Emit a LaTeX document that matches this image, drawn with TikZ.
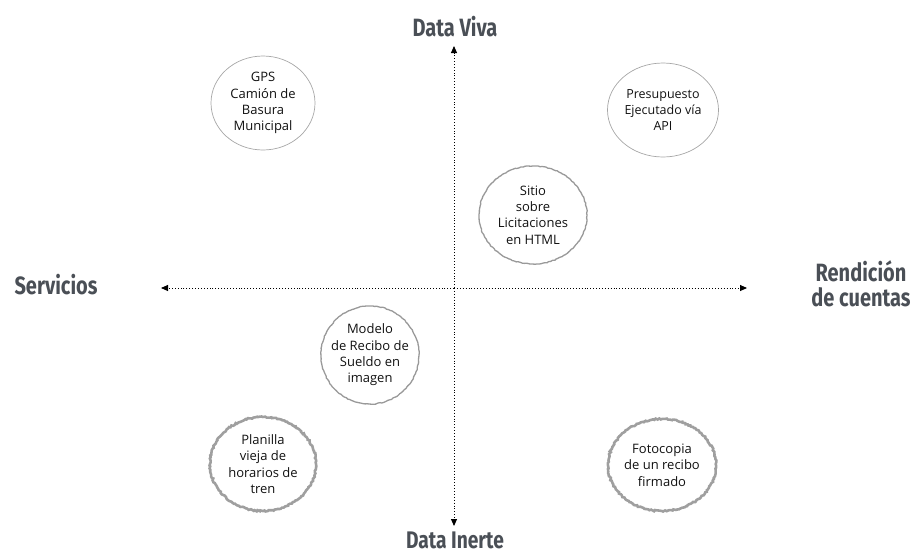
\documentclass[tikz,border=0pt]{standalone}
\usepackage{fontspec}
\setmainfont{Open Sans}
\newfontfamily\headfont[FakeStretch=0.8]{Fira Sans}
\usetikzlibrary{arrows.meta,decorations.pathmorphing,shapes.geometric}
\definecolor{headgray}{HTML}{4A4F56}
\definecolor{txt}{HTML}{111111}
\tikzset{
  axis/.style={dotted, line width=0.9pt, -{Triangle[length=7pt,width=6pt]}, black},
  head/.style={font=\headfont\bfseries\fontsize{25}{28}\selectfont, text=headgray, align=center},
  lbl/.style={font=\fontsize{13}{16.3}\selectfont, text=txt, align=center},
  thin/.style={draw=gray!70, line width=0.7pt},
  sketch/.style={draw=gray!80, line width=1.3pt, decorate, decoration={random steps, segment length=2pt, amplitude=0.4pt}},
  rough/.style={draw=gray!75, line width=2.6pt, decorate, decoration={random steps, segment length=1.5pt, amplitude=0.7pt}},
}
\begin{document}
\begin{tikzpicture}[x=1pt,y=-1pt]
\useasboundingbox (0,0) rectangle (918,555);
\coordinate (c) at (454,288);
\coordinate (top) at (454,46);
\coordinate (bot) at (454,526);
\coordinate (lft) at (161,288);
\coordinate (rgt) at (747,288);
\draw[axis] (c) -- (top);
\draw[axis] (c) -- (bot);
\draw[axis] (c) -- (lft);
\draw[axis] (c) -- (rgt);

\node[head] (viva) at (455,27) {Data Viva};
\node[head, font=\headfont\bfseries\fontsize{24}{26}\selectfont, anchor=base, inner sep=0pt, text depth=0pt] (inerte) at (455,548) {Data Inerte};
\node[head] (serv) at (56,285) {Servicios};
\node[head] (rend) at (861,284) {Rendición\\[-3pt]de cuentas};

\node[ellipse, thin, minimum width=104pt, minimum height=94pt] (gps) at (263,103) {};
\node[lbl] at (gps) {GPS\\Camión de\\Basura\\Municipal};

\node[ellipse, thin, minimum width=111pt, minimum height=94pt] (pres) at (663,110) {};
\node[lbl, font=\fontsize{12.5}{16.3}\selectfont] at (pres) {Presupuesto\\Ejecutado vía\\API};

\node[ellipse, minimum width=108pt, minimum height=98pt] (sitio) at (533,215) {};
\draw[sketch] (sitio.center) ellipse [x radius=54pt, y radius=49pt];
\node[lbl] at (sitio) {Sitio\\sobre\\Licitaciones\\en HTML};

\node[ellipse, minimum width=98pt, minimum height=98pt] (modelo) at (370,355) {};
\draw[sketch] (modelo.center) ellipse [x radius=49pt, y radius=49pt];
\node[lbl] at (modelo) {Modelo\\de Recibo de\\Sueldo en\\imagen};

\node[ellipse, minimum width=106pt, minimum height=94pt] (plan) at (263,464) {};
\draw[rough] (plan.center) ellipse [x radius=53pt, y radius=47pt];
\node[lbl] at (plan) {Planilla\\vieja de\\horarios de\\tren};

\node[ellipse, minimum width=108pt, minimum height=92pt] (foto) at (662,465) {};
\draw[rough] (foto.center) ellipse [x radius=54pt, y radius=46pt];
\node[lbl] at (foto) {Fotocopia\\de un recibo\\firmado};
\end{tikzpicture}
\end{document}
